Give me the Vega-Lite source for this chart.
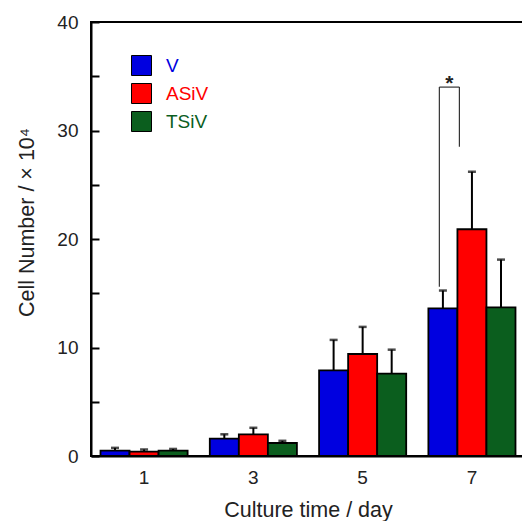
{
  "$schema": "https://vega.github.io/schema/vega-lite/v6.json",
  "width": 434,
  "height": 434,
  "autosize": "none",
  "padding": {"left": 91, "top": 22, "right": 0, "bottom": 65},
  "background": "white",
  "config": {
    "font": "Liberation Sans",
    "view": {"stroke": "black", "strokeWidth": 2},
    "axis": {"grid": false, "labelFont": "Liberation Sans", "titleFont": "Liberation Sans", "labelColor": "#222", "titleColor": "#222", "titleFontWeight": "normal", "domainColor": "black", "domainWidth": 2, "tickColor": "black", "tickWidth": 2}
  },
  "datasets": {
    "bars": [
      {"day": "1", "group": "V", "value": 0.5, "upper": 0.75},
      {"day": "1", "group": "ASiV", "value": 0.4, "upper": 0.6},
      {"day": "1", "group": "TSiV", "value": 0.5, "upper": 0.65},
      {"day": "3", "group": "V", "value": 1.6, "upper": 2.0},
      {"day": "3", "group": "ASiV", "value": 2.0, "upper": 2.6},
      {"day": "3", "group": "TSiV", "value": 1.2, "upper": 1.4},
      {"day": "5", "group": "V", "value": 7.9, "upper": 10.7},
      {"day": "5", "group": "ASiV", "value": 9.4, "upper": 11.9},
      {"day": "5", "group": "TSiV", "value": 7.6, "upper": 9.8},
      {"day": "7", "group": "V", "value": 13.6, "upper": 15.25},
      {"day": "7", "group": "ASiV", "value": 20.9, "upper": 26.2},
      {"day": "7", "group": "TSiV", "value": 13.7, "upper": 18.1}
    ],
    "bracket": [
      {"day": "7", "top": 34.0, "leftBottom": 15.6, "rightBottom": 28.5, "label": "*"}
    ]
  },
  "layer": [
    {
      "data": {"name": "bars"},
      "mark": {"type": "bar", "stroke": "black", "strokeWidth": 1.8},
      "encoding": {
        "x": {"field": "day", "type": "nominal", "sort": ["1", "3", "5", "7"],
          "scale": {"paddingInner": 0.203, "paddingOuter": 0.087},
          "axis": {"title": "Culture time / day", "labelAngle": 0, "ticks": false, "labelFontSize": 19, "labelPadding": 12, "titleFontSize": 21.5, "titleY": 60.5, "titleBaseline": "alphabetic"}},
        "xOffset": {"field": "group", "type": "nominal", "sort": ["V", "ASiV", "TSiV"], "scale": {"paddingInner": 0, "paddingOuter": 0}},
        "y": {"field": "value", "type": "quantitative",
          "scale": {"domain": [0, 40], "nice": false},
          "axis": {"title": "Cell Number / × 10⁴", "values": [0, 5, 10, 15, 20, 25, 30, 35, 40],
            "labelExpr": "datum.value % 10 === 0 ? datum.label : ''",
            "tickSize": -8, "labelPadding": 21, "labelFontSize": 19, "titleFontSize": 21.5,
            "titleX": -58, "titleY": 200, "titleAngle": -90, "titleBaseline": "alphabetic", "titleAlign": "center"}},
        "color": {"field": "group", "type": "nominal",
          "scale": {"domain": ["V", "ASiV", "TSiV"], "range": ["#0000e0", "#ff0000", "#0b5e1e"]},
          "legend": {"title": null, "orient": "none", "legendX": 40, "legendY": 33, "padding": 0,
            "symbolType": "square", "symbolSize": 400, "symbolStrokeColor": "black", "symbolStrokeWidth": 1, "symbolOpacity": 1,
            "labelFontSize": 19, "labelFont": "Liberation Sans", "labelOffset": 14, "rowPadding": 3,
            "encode": {"labels": {"update": {"fill": {"scale": "color", "field": "value"}}}}}}
      }
    },
    {
      "data": {"name": "bars"},
      "mark": {"type": "rule", "strokeWidth": 2, "color": "black"},
      "encoding": {
        "x": {"field": "day", "type": "nominal", "sort": ["1", "3", "5", "7"]},
        "xOffset": {"field": "group", "type": "nominal", "sort": ["V", "ASiV", "TSiV"]},
        "y": {"field": "value", "type": "quantitative"},
        "y2": {"field": "upper"}
      }
    },
    {
      "data": {"name": "bars"},
      "mark": {"type": "tick", "thickness": 2.5, "size": 8, "color": "black", "orient": "horizontal"},
      "encoding": {
        "x": {"field": "day", "type": "nominal", "sort": ["1", "3", "5", "7"]},
        "xOffset": {"field": "group", "type": "nominal", "sort": ["V", "ASiV", "TSiV"]},
        "y": {"field": "upper", "type": "quantitative"}
      }
    },
    {
      "data": {"name": "bracket"},
      "mark": {"type": "rule", "strokeWidth": 1.2, "color": "#333"},
      "encoding": {
        "x": {"field": "day", "type": "nominal", "bandPosition": 0.126},
        "y": {"field": "top", "type": "quantitative"},
        "y2": {"field": "leftBottom"}
      }
    },
    {
      "data": {"name": "bracket"},
      "mark": {"type": "rule", "strokeWidth": 1.2, "color": "#333"},
      "encoding": {
        "x": {"field": "day", "type": "nominal", "bandPosition": 0.356},
        "y": {"field": "top", "type": "quantitative"},
        "y2": {"field": "rightBottom"}
      }
    },
    {
      "data": {"name": "bracket"},
      "mark": {"type": "rule", "strokeWidth": 1.2, "color": "#333"},
      "encoding": {
        "x": {"field": "day", "type": "nominal", "bandPosition": 0.126},
        "x2": {"field": "day", "bandPosition": 0.356},
        "y": {"field": "top", "type": "quantitative"}
      }
    },
    {
      "data": {"name": "bracket"},
      "mark": {"type": "text", "fontSize": 21, "fontWeight": "bold", "baseline": "alphabetic", "align": "center", "dy": 3, "color": "#222"},
      "encoding": {
        "x": {"field": "day", "type": "nominal", "bandPosition": 0.241},
        "y": {"field": "top", "type": "quantitative"},
        "text": {"field": "label"}
      }
    }
  ]
}
